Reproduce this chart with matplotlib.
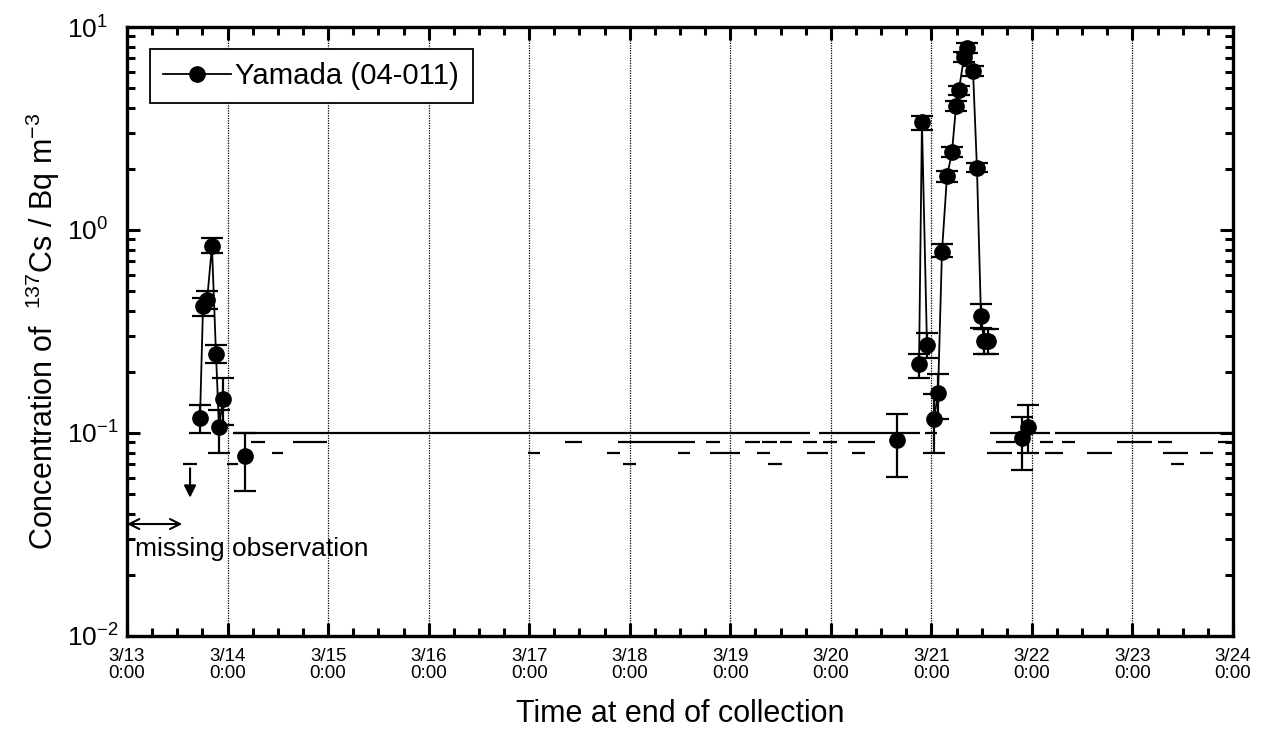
import matplotlib
matplotlib.use('Agg')
import matplotlib.pyplot as plt
import numpy as np
from matplotlib.lines import Line2D
from matplotlib.ticker import FixedLocator, MultipleLocator, LogLocator, NullFormatter, FixedFormatter

plt.rcParams['font.family'] = ['Liberation Sans', 'DejaVu Sans']
plt.rcParams['mathtext.fontset'] = 'custom'
plt.rcParams['mathtext.rm'] = 'Liberation Sans'
plt.rcParams['mathtext.it'] = 'Liberation Sans:italic'
plt.rcParams['mathtext.bf'] = 'Liberation Sans:bold'

# ---------------- data (time = days after 3/13 0:00) ----------------
day_ticks = list(range(0, 12))
day_labels = ['3/13\n0:00', '3/14\n0:00', '3/15\n0:00', '3/16\n0:00', '3/17\n0:00',
              '3/18\n0:00', '3/19\n0:00', '3/20\n0:00', '3/21\n0:00', '3/22\n0:00',
              '3/23\n0:00', '3/24\n0:00']
ytick_vals = [1e-2, 1e-1, 1e0, 1e1]
ytick_labels = ['$10^{-2}$', '$10^{-1}$', '$10^{0}$', '$10^{1}$']
series_name = 'Yamada (04-011)'

# measured points, grouped into continuously connected runs
g1_t = [0.726, 0.756, 0.796, 0.845, 0.885, 0.915, 0.955]
g1_v = [0.118, 0.42, 0.45, 0.83, 0.245, 0.107, 0.147]
g1_lo = [0.100, 0.376, 0.41, 0.77, 0.22, 0.080, 0.110]
g1_hi = [0.137, 0.46, 0.50, 0.91, 0.27, 0.130, 0.187]

g2_t = [1.174]
g2_v = [0.077]
g2_lo = [0.052]
g2_hi = [0.100]

g3_t = [7.658]
g3_v = [0.092]
g3_lo = [0.061]
g3_hi = [0.124]

g4_t = [7.877, 7.906, 7.956]
g4_v = [0.219, 3.40, 0.271]
g4_lo = [0.187, 3.12, 0.234]
g4_hi = [0.245, 3.65, 0.310]

g5_t = [8.026, 8.066, 8.105, 8.155, 8.205, 8.245, 8.274, 8.324, 8.354, 8.414, 8.453, 8.493, 8.523, 8.563]
g5_v = [0.117, 0.157, 0.78, 1.84, 2.42, 4.08, 4.90, 7.10, 7.86, 6.07, 2.02, 0.377, 0.284, 0.284]
g5_lo = [0.080, 0.117, 0.74, 1.73, 2.30, 3.85, 4.65, 6.70, 7.45, 5.75, 1.93, 0.330, 0.245, 0.245]
g5_hi = [0.155, 0.195, 0.85, 1.95, 2.55, 4.30, 5.15, 7.50, 8.30, 6.40, 2.15, 0.430, 0.325, 0.325]

g6_t = [8.901, 8.961]
g6_v = [0.0945, 0.107]
g6_lo = [0.066, 0.080]
g6_hi = [0.120, 0.137]

# detection-limit (not detected) sampling intervals: start, end, limit
dl_start = [1.054, 6.882, 7.936, 8.583, 9.229,
            1.233, 1.651, 4.356, 4.883, 5.758, 6.146, 6.315, 6.494, 6.723, 6.922, 7.171,
            8.642, 9.080, 9.299, 9.846, 10.254, 10.850,
            1.442, 3.988, 4.774, 5.480, 5.798, 6.265, 6.763, 7.210, 8.553, 9.130, 9.547,
            10.303, 10.671,
            0.557, 0.995, 4.933, 6.375, 10.383]
dl_end = [6.793, 7.887, 8.056, 9.179, 11.0,
          1.372, 1.989, 4.525, 5.649, 5.898, 6.295, 6.465, 6.614, 6.862, 7.061, 7.439,
          8.831, 9.209, 9.428, 10.194, 10.393, 10.970,
          1.551, 4.107, 4.903, 5.599, 6.096, 6.395, 6.972, 7.340, 8.802, 9.309, 9.796,
          10.552, 10.801,
          0.696, 1.104, 5.062, 6.514, 10.512]
dl_val = [0.1, 0.1, 0.1, 0.1, 0.1,
          0.09, 0.09, 0.09, 0.09, 0.09, 0.09, 0.09, 0.09, 0.09, 0.09, 0.09,
          0.09, 0.09, 0.09, 0.09, 0.09, 0.09,
          0.08, 0.08, 0.08, 0.08, 0.08, 0.08, 0.08, 0.08, 0.08, 0.08, 0.08,
          0.08, 0.08,
          0.07, 0.07, 0.07, 0.07, 0.07]

missing_span = (0.0, 0.55)
missing_level = 0.0356
missing_text = 'missing observation'
below_t = 0.627
below_from, below_to = 0.067, 0.048

# ---------------- figure ----------------
fig = plt.figure(figsize=(12.7, 7.42), dpi=100)
ax = fig.add_axes([0.1, 0.1429, 0.8709, 0.8207])

lw = 1.3
ms = 11
for t, v, lo, hi in [(g1_t, g1_v, g1_lo, g1_hi), (g2_t, g2_v, g2_lo, g2_hi),
                     (g3_t, g3_v, g3_lo, g3_hi), (g4_t, g4_v, g4_lo, g4_hi),
                     (g5_t, g5_v, g5_lo, g5_hi), (g6_t, g6_v, g6_lo, g6_hi)]:
    t = np.array(t); v = np.array(v); lo = np.array(lo); hi = np.array(hi)
    ax.errorbar(t, v, yerr=[v - lo, hi - v], fmt='o-', color='black', mfc='black', mec='black',
                ms=ms, lw=lw, elinewidth=1.6, capsize=8, capthick=1.6, zorder=3)

ax.hlines(dl_val, dl_start, dl_end, colors='black', linewidth=1.6, zorder=2)

# annotations
ax.annotate('', xy=(missing_span[1], missing_level), xytext=(missing_span[0], missing_level),
            arrowprops=dict(arrowstyle='<->', color='black', lw=1.5, mutation_scale=18,
                            shrinkA=0, shrinkB=0))
ax.text(0.08, 0.0268, missing_text, fontsize=19, va='center', ha='left')
ax.annotate('', xy=(below_t, below_to), xytext=(below_t, below_from),
            arrowprops=dict(arrowstyle='-|>', color='black', lw=1.5, mutation_scale=18,
                            shrinkA=0, shrinkB=0))

ax.set_yscale('log')
ax.set_xlim(0, 11)
ax.set_ylim(1e-2, 1e1)

ax.xaxis.set_major_locator(FixedLocator(day_ticks))
ax.xaxis.set_major_formatter(FixedFormatter(day_labels))
ax.xaxis.set_minor_locator(MultipleLocator(0.25))
ax.yaxis.set_major_locator(FixedLocator(ytick_vals))
ax.yaxis.set_major_formatter(FixedFormatter(ytick_labels))
ax.yaxis.set_minor_locator(LogLocator(base=10, subs=np.arange(2, 10)))
ax.yaxis.set_minor_formatter(NullFormatter())

ax.tick_params(which='both', direction='in', top=True, right=True, width=2.2)
ax.tick_params(which='major', length=9.5)
ax.tick_params(which='minor', length=5.5)
ax.tick_params(axis='x', which='major', labelsize=13.5, pad=9)
ax.tick_params(axis='y', which='major', labelsize=19, pad=43)
for lab in ax.get_yticklabels():
    lab.set_horizontalalignment('left')
for lab in ax.get_xticklabels():
    lab.set_linespacing(1.0)
for s in ax.spines.values():
    s.set_linewidth(2.4)

ax.grid(axis='x', which='major', linestyle=(0, (1, 1)), color='black', linewidth=0.9)

ax.set_xlabel('Time at end of collection', fontsize=22, labelpad=12)
ax.set_ylabel('Concentration of  $^{137}$Cs / Bq m$^{-3}$', fontsize=22, labelpad=4)

handle = Line2D([], [], color='black', marker='o', ms=ms, lw=lw, mfc='black', mec='black')
leg = ax.legend([handle], [series_name], loc='upper left', bbox_to_anchor=(0.0208, 0.964),
                borderaxespad=0, fontsize=21.2, frameon=True, fancybox=False, handlelength=2.3,
                handletextpad=0.15, borderpad=0.45)
leg.get_frame().set_edgecolor('black')
leg.get_frame().set_linewidth(1.3)
leg.get_frame().set_alpha(1)

fig.savefig('out.png', dpi=100)
